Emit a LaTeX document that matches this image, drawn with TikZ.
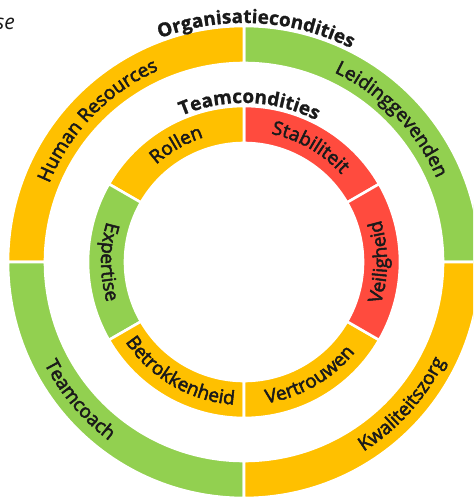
\documentclass[tikz,border=0pt]{standalone}
\usepackage{fontspec}
\setmainfont{Open Sans}
\newfontfamily\segfamily[FakeBold=2.6]{Open Sans}
\newfontfamily\headfamily[FakeBold=1.0]{Open Sans}
\usetikzlibrary{decorations.text}

\definecolor{ringorange}{HTML}{FFC000}
\definecolor{ringgreen}{HTML}{92D050}
\definecolor{ringred}{HTML}{FF4B3E}
\definecolor{labeltext}{HTML}{1A1A1A}

% annular sector: colour, start angle, end angle, inner radius, outer radius
\newcommand\ringsector[5]{%
  \filldraw[fill=#1, draw=white, line width=2.6]
    (#2:#4) -- (#2:#5) arc[start angle=#2, end angle=#3, radius=#5]
    -- (#3:#4) arc[start angle=#3, end angle=#2, radius=#4] -- cycle;}

% text bent along a circle: text, font, mid angle, baseline radius
\newcommand\outlabel[4]{% letters lean outward (clockwise path)
  \path[decorate, decoration={text along path, text={|#2|#1},
      text align=center, text color=labeltext}]
    (#3+80:#4) arc[start angle=#3+80, end angle=#3-80, radius=#4];}
\newcommand\inlabel[4]{% letters lean inward (counter-clockwise path)
  \path[decorate, decoration={text along path, text={|#2|#1},
      text align=center, text color=labeltext}]
    (#3-80:#4) arc[start angle=#3-80, end angle=#3+80, radius=#4];}

\newcommand\segfont{\segfamily\fontsize{19}{19}\selectfont}
\newcommand\headfont{\headfamily\fontsize{19}{19}\selectfont\bfseries}

\begin{document}
\begin{tikzpicture}[x=1pt, y=1pt]
  \useasboundingbox (0,0) rectangle (473,-497);
  \clip (0,0) rectangle (473,-497);
  \fill[white] (0,0) rectangle (473,-497);

  \node[anchor=base east, inner sep=0, text=labeltext,
        font=\fontsize{21}{21}\selectfont\itshape] (caption) at (15,-30) {se};

  \begin{scope}[shift={(244,-262)}]
    % outer ring: organisational conditions
    \ringsector{ringgreen}{0}{90}{199}{236}
    \ringsector{ringorange}{90}{180}{199}{236}
    \ringsector{ringgreen}{180}{270}{199}{236}
    \ringsector{ringorange}{270}{360}{199}{236}

    % inner ring: team conditions
    \ringsector{ringred}{30}{90}{119}{156}
    \ringsector{ringorange}{90}{150}{119}{156}
    \ringsector{ringgreen}{150}{210}{119}{156}
    \ringsector{ringorange}{210}{270}{119}{156}
    \ringsector{ringorange}{270}{330}{119}{156}
    \ringsector{ringred}{330}{390}{119}{156}

    % ring titles
    \outlabel{Organisatiecondities}{\headfont}{87}{239}
    \outlabel{Teamcondities}{\headfont}{88}{159}

    % outer ring labels
    \outlabel{Leidinggevenden}{\segfont}{44}{210}
    \outlabel{Human Resources}{\segfont}{136}{210}
    \inlabel{Teamcoach}{\segfont}{220}{224}
    \inlabel{Kwaliteitszorg}{\segfont}{318}{224}

    % inner ring labels
    \outlabel{Stabiliteit}{\segfont}{60}{131}
    \outlabel{Rollen}{\segfont}{120}{131}
    \inlabel{Expertise}{\segfont}{180}{143}
    \inlabel{Betrokkenheid}{\segfont}{240}{143}
    \inlabel{Vertrouwen}{\segfont}{300}{143}
    \inlabel{Veiligheid}{\segfont}{0}{143}
  \end{scope}
\end{tikzpicture}
\end{document}
